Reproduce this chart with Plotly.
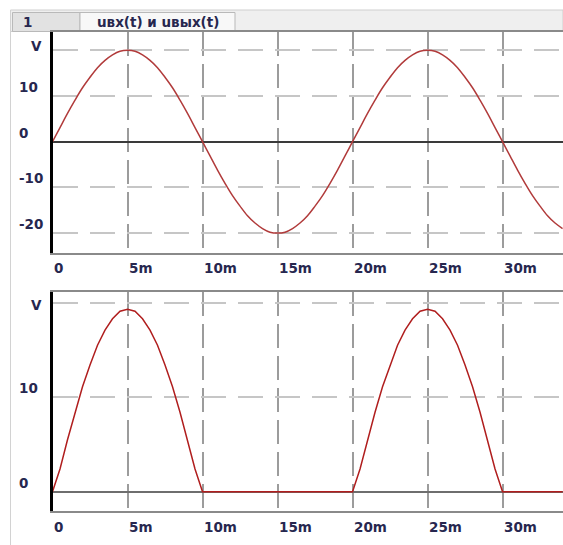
import plotly.graph_objects as go

# ---------------- data ----------------
t_ms = [0, 0.5, 1, 1.5, 2, 2.5, 3, 3.5, 4, 4.5, 5, 5.5, 6, 6.5, 7, 7.5, 8, 8.5, 9, 9.5,
        10, 10.5, 11, 11.5, 12, 12.5, 13, 13.5, 14, 14.5, 15, 15.5, 16, 16.5, 17, 17.5,
        18, 18.5, 19, 19.5, 20, 20.5, 21, 21.5, 22, 22.5, 23, 23.5, 24, 24.5, 25, 25.5,
        26, 26.5, 27, 27.5, 28, 28.5, 29, 29.5, 30, 30.5, 31, 31.5, 32, 32.5, 33, 33.5, 34]

u_in = [0, 3.1, 6.2, 9.1, 11.8, 14.1, 16.2, 17.8, 19.0, 19.8, 20.0, 19.8, 19.0, 17.8, 16.2,
        14.1, 11.8, 9.1, 6.2, 3.1, 0,
        -3.1, -6.2, -9.1, -11.8, -14.1, -16.2, -17.8, -19.0, -19.8, -20.0, -19.8, -19.0,
        -17.8, -16.2, -14.1, -11.8, -9.1, -6.2, -3.1, 0,
        3.1, 6.2, 9.1, 11.8, 14.1, 16.2, 17.8, 19.0, 19.8, 20.0, 19.8, 19.0, 17.8, 16.2,
        14.1, 11.8, 9.1, 6.2, 3.1, 0,
        -3.1, -6.2, -9.1, -11.8, -14.1, -16.2, -17.8, -19.0]

u_out = [0, 2.4, 5.5, 8.4, 11.1, 13.4, 15.5, 17.1, 18.3, 19.1, 19.3, 19.1, 18.3, 17.1, 15.5,
         13.4, 11.1, 8.4, 5.5, 2.4, 0,
         0, 0, 0, 0, 0, 0, 0, 0, 0, 0, 0, 0, 0, 0, 0, 0, 0, 0, 0, 0,
         2.4, 5.5, 8.4, 11.1, 13.4, 15.5, 17.1, 18.3, 19.1, 19.3, 19.1, 18.3, 17.1, 15.5,
         13.4, 11.1, 8.4, 5.5, 2.4, 0,
         0, 0, 0, 0, 0, 0, 0, 0]

x_tick_vals = [0, 5, 10, 15, 20, 25, 30]
x_tick_text = ["0", "5m", "10m", "15m", "20m", "25m", "30m"]

top_tick_vals = [20, 10, 0, -10, -20]
top_tick_text = ["V", "10", "0", "-10", "-20"]
bot_tick_vals = [20, 10, 0]
bot_tick_text = ["V", "10", "0"]

tab_labels = ["1", "uвх(t) и uвых(t)"]

# ---------------- layout helpers ----------------
W, H = 563, 545
def px(x):
    return x / W
def py(y):
    return 1 - y / H

FONT = "DejaVu Sans"
TXT = "#27274f"

fig = go.Figure()
fig.add_trace(go.Scatter(x=t_ms, y=u_in, mode="lines", xaxis="x", yaxis="y",
                         line=dict(color="#b13b3b", width=1.5, shape="spline", smoothing=1),
                         hoverinfo="skip"))
fig.add_trace(go.Scatter(x=t_ms, y=u_out, mode="lines", xaxis="x2", yaxis="y2",
                         line=dict(color="#b01e1e", width=1.5), hoverinfo="skip"))

xcommon = dict(range=[0, 34.03], tickvals=x_tick_vals, showticklabels=False, ticks="",
               showgrid=True, gridcolor="#9c9c9c", gridwidth=2, griddash="24px,8px",
               zeroline=False, showline=True, linecolor="#8a8a8a", linewidth=2, mirror=True,
               fixedrange=True)
ycommon = dict(showticklabels=False, ticks="", showgrid=True, gridcolor="#c6c6c6",
               gridwidth=2, griddash="25px,12px", zeroline=True, showline=True,
               linecolor="#000000", linewidth=2.5, fixedrange=True)

top_dom = [py(252.7), py(32.3)]
bot_dom = [py(510.7), py(292.3)]
xdom = [px(52.5), 1]

fig.update_layout(
    width=W, height=H, margin=dict(l=0, r=0, t=0, b=0),
    paper_bgcolor="white", plot_bgcolor="white", showlegend=False,
    xaxis=dict(domain=xdom, anchor="y", **xcommon),
    xaxis2=dict(domain=xdom, anchor="y2", **xcommon),
    yaxis=dict(domain=top_dom, anchor="x", range=[-24.29, 23.94],
               tickvals=[v for v in top_tick_vals if v != 0],
               zerolinecolor="#3a3a3a", zerolinewidth=2, **ycommon),
    yaxis2=dict(domain=bot_dom, anchor="x2", range=[-2.01, 21.1],
                tickvals=[v for v in bot_tick_vals if v != 0],
                zerolinecolor="#6e6e6e", zerolinewidth=2, **ycommon),
)

shapes = []
# window left border
shapes.append(dict(type="line", xref="paper", yref="paper", x0=px(10.5), x1=px(10.5),
                   y0=py(10), y1=py(545), line=dict(color="#d2d2d2", width=1)))
# tab bar
shapes.append(dict(type="rect", xref="paper", yref="paper", x0=px(10.5), x1=px(563),
                   y0=py(31.5), y1=py(10), fillcolor="#efefef",
                   line=dict(color="#cfcfcf", width=1), layer="below"))
shapes.append(dict(type="rect", xref="paper", yref="paper", x0=px(12.5), x1=px(80),
                   y0=py(31.5), y1=py(12.5), fillcolor="#e2e2e2",
                   line=dict(color="#b9b9b9", width=1), layer="below"))
shapes.append(dict(type="rect", xref="paper", yref="paper", x0=px(80), x1=px(235),
                   y0=py(31.5), y1=py(12.5), fillcolor="#f8f8f8",
                   line=dict(color="#b9b9b9", width=1), layer="below"))
fig.update_layout(shapes=shapes)

ann = []
tfont = dict(family=FONT, size=13.5, color=TXT, weight="bold")
ann.append(dict(text=tab_labels[0], xref="paper", yref="paper", x=px(21), y=py(22),
                xanchor="left", yanchor="middle", showarrow=False, font=tfont))
ann.append(dict(text=tab_labels[1], xref="paper", yref="paper", x=px(157.5), y=py(22),
                xanchor="center", yanchor="middle", showarrow=False, font=tfont))

lfont = dict(family=FONT, size=13.5, color=TXT, weight="bold")
for v, s in zip(x_tick_vals, x_tick_text):
    ann.append(dict(text=s, xref="x", yref="paper", x=v, y=py(267.5), xanchor="left",
                    yanchor="middle", xshift=-1, showarrow=False, font=lfont))
    ann.append(dict(text=s, xref="x2", yref="paper", x=v, y=py(526.5), xanchor="left",
                    yanchor="middle", xshift=-1, showarrow=False, font=lfont))

for v, s in zip(top_tick_vals, top_tick_text):
    if s == "V":
        ann.append(dict(text=s, xref="paper", yref="y", x=px(44), y=v, xanchor="right",
                        yanchor="middle", yshift=4, showarrow=False, font=lfont))
    else:
        ann.append(dict(text=s, xref="paper", yref="y", x=px(16.5), y=v, xanchor="left",
                        yanchor="middle", yshift=9, showarrow=False, font=lfont))
for v, s in zip(bot_tick_vals, bot_tick_text):
    if s == "V":
        ann.append(dict(text=s, xref="paper", yref="y2", x=px(44), y=v, xanchor="right",
                        yanchor="middle", yshift=-2, showarrow=False, font=lfont))
    else:
        ann.append(dict(text=s, xref="paper", yref="y2", x=px(16.5), y=v, xanchor="left",
                        yanchor="middle", yshift=9, showarrow=False, font=lfont))
fig.update_layout(annotations=ann)

post = ("document.documentElement.style.margin='0';document.body.style.margin='0';"
        "document.body.style.padding='0';document.documentElement.style.overflow='hidden';"
        "document.body.style.overflow='hidden';")
fig.write_html("out.html", config={"displayModeBar": False}, post_script=post)
